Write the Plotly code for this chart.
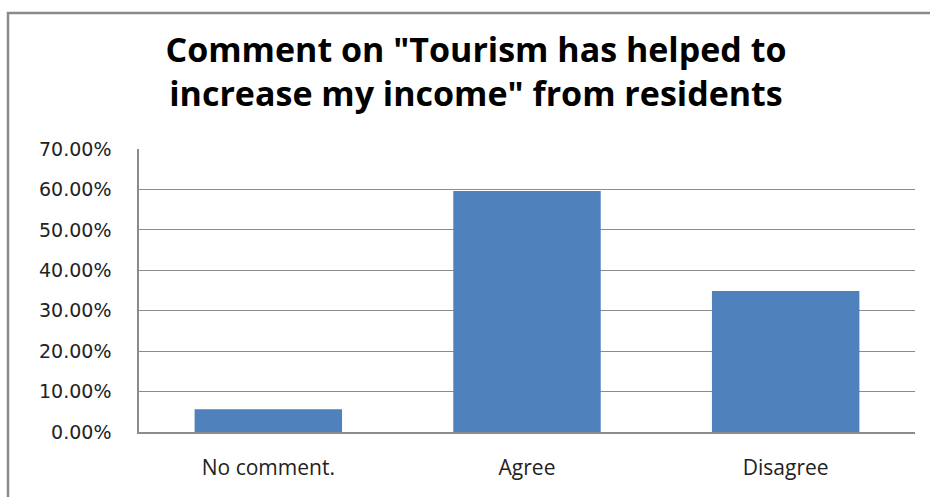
import plotly.graph_objects as go

# Survey responses (share of residents)
categories = ["No comment.", "Agree", "Disagree"]
shares = [0.056, 0.596, 0.349]
tick_values = [0, 0.1, 0.2, 0.3, 0.4, 0.5, 0.6, 0.7]
tick_labels = ["0.00%", "10.00%", "20.00%", "30.00%", "40.00%", "50.00%", "60.00%", "70.00%"]

W, H = 930, 497
L, R, T, B = 139, 15, 149, 65
pw = W - L - R
ph = H - T - B

fig = go.Figure(
    go.Bar(
        x=categories,
        y=shares,
        marker=dict(color="#4f81bd", line=dict(width=0)),
        width=0.57,
    )
)

# outer chart frame (top and left edges visible, the rest runs off the page)
fx0 = (8 - L) / pw
fx1 = (945 - L) / pw
fy1 = 1 + (T - 13) / ph
fy0 = -(B + 20) / ph
fig.add_shape(type="rect", xref="paper", yref="paper",
              x0=fx0, x1=fx1, y0=fy0, y1=fy1,
              line=dict(color="#8a8a8a", width=2.5), layer="below")

fig.update_layout(
    width=W, height=H,
    margin=dict(l=L, r=R, t=T, b=B),
    paper_bgcolor="white",
    plot_bgcolor="white",
    showlegend=False,
    title=dict(
        text="<b>Comment on \"Tourism has helped to<br>increase my income\" from residents</b>",
        x=476 / W, xanchor="center",
        y=1 - 62 / H, yanchor="top",
        font=dict(family="Open Sans", size=34, color="black"),
    ),
)

fig.update_xaxes(
    showgrid=False,
    showline=True, linecolor="#8c8c8c", linewidth=1.5,
    ticks="",
    tickfont=dict(family="Open Sans", size=21, color="#222222"),
    ticklabelstandoff=16,
)
fig.update_yaxes(
    range=[0, 0.7],
    tickvals=tick_values,
    ticktext=tick_labels,
    showgrid=True, gridcolor="#8c8c8c", gridwidth=1.2,
    showline=True, linecolor="#8c8c8c", linewidth=1.5,
    zeroline=False,
    ticks="",
    tickfont=dict(family="DejaVu Sans", size=19, color="#222222"),
    ticklabelstandoff=22,
)

fig.write_html("out.html")
